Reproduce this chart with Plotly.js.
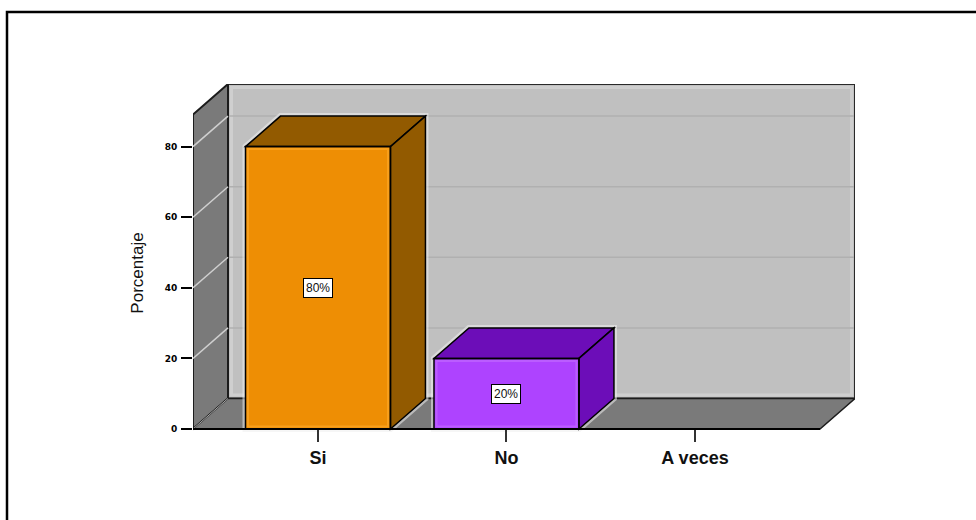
<!DOCTYPE html>
<html>
<head>
<meta charset="utf-8">
<script src="https://cdn.plot.ly/plotly-3.0.1.min.js"></script>
<style>html,body{margin:0;padding:0;background:#fff;overflow:hidden}#c{width:976px;height:520px}</style>
</head>
<body>
<div id="c"></div>
<script>
const categories = ["Si", "No", "A veces"];
const values = [80, 20, 0];
const labels = ["80%", "20%", null];
const yTicks = [0, 20, 40, 60, 80];
const frontColors = ["#ee8e04", "#ae43ff", "#ee8e04"];
const sideColors = ["#925a00", "#6c0db8", "#925a00"];
const glowColors = ["#f89f1c", "#bb5cff", "#f89f1c"];

// Plot area is extended below the zero line so the axis title centres where the reference has it
const margin = {l: 193, r: 121, t: 84, b: 58};
const plotW = 662, plotH = 378;
const xRange = [-0.663, 2.849];
const pxY = 3.53;
const yRange = [-33 / pxY, 345 / pxY];
const pxX = plotW / (xRange[1] - xRange[0]);
const depthX = 35 / pxX, depthY = 30.5 / pxY;
const barWidth = 0.769;
const wallTop = yRange[1] - depthY;
const floorRight = xRange[1] - depthX;

const poly = pts => "M" + pts.map(p => p[0] + "," + p[1]).join("L") + "Z";
const seg = (pts, color, width, layer) => ({
  type: "path", xref: "x", yref: "y", layer: layer || "below",
  path: "M" + pts.map(p => p[0] + "," + p[1]).join("L"),
  line: {color: color, width: width}
});
const face = (pts, fill, color, width, layer) => ({
  type: "path", xref: "x", yref: "y", layer: layer || "below",
  path: poly(pts), fillcolor: fill, line: {color: color, width: width}
});

const shapes = [];
const x0 = xRange[0];

// back wall, side wall, floor
shapes.push(face([[x0 + depthX, depthY], [xRange[1], depthY], [xRange[1], yRange[1]], [x0 + depthX, yRange[1]]], "#c0c0c0", "#2a2a2a", 2));
const ix = 3.5 / pxX, iy = 3.5 / pxY;
shapes.push(face([[x0 + depthX + ix, depthY + iy], [xRange[1] - ix, depthY + iy], [xRange[1] - ix, yRange[1] - iy], [x0 + depthX + ix, yRange[1] - iy]], "rgba(0,0,0,0)", "#cfcfcf", 3));
shapes.push(face([[x0, 0], [x0 + depthX, depthY], [x0 + depthX, yRange[1]], [x0, wallTop]], "#7a7a7a", "#1c1c1c", 2));
shapes.push(face([[x0, 0], [floorRight, 0], [xRange[1], depthY], [x0 + depthX, depthY]], "#7a7a7a", "#1c1c1c", 1.5));

// grid lines on the walls
yTicks.forEach(v => {
  if (v > 0) shapes.push(seg([[x0 + depthX + 1 / pxX, v + depthY], [xRange[1] - 1 / pxX, v + depthY]], "#b0b0b0", 1.5));
  shapes.push(seg([[x0, v], [x0 + depthX, v + depthY]], v === 0 ? "#a8a8a8" : "#cfcfcf", v === 0 ? 1 : 1.5));
});

// bar depth faces
values.forEach((v, i) => {
  if (!v) return;
  const l = i - barWidth / 2, r = i + barWidth / 2;
  const top = [[l, v], [r, v], [r + depthX, v + depthY], [l + depthX, v + depthY]];
  const side = [[r, 0], [r + depthX, depthY], [r + depthX, v + depthY], [r, v]];
  const halo = [[l, 0], [l, v], [l + depthX, v + depthY], [r + depthX, v + depthY], [r + depthX, depthY], [r, 0]];
  shapes.push(face(halo, "rgba(0,0,0,0)", "rgba(238,238,238,0.55)", 6));
  shapes.push(face(top, sideColors[i], "#000000", 1.5, "above"));
  shapes.push(face(side, sideColors[i], "#000000", 1.5, "above"));
  const gx = 2.5 / pxX, gy = 2.5 / pxY;
  shapes.push(face([[l + gx, gy], [r - gx, gy], [r - gx, v - gy], [l + gx, v - gy]], "rgba(0,0,0,0)", glowColors[i], 2, "above"));
  shapes.push(face([[l, 0], [r, 0], [r, v], [l, v]], "rgba(0,0,0,0)", "#000000", 1.5, "above"));
});

// baseline and outer frame
shapes.push(seg([[x0, 0], [floorRight, 0]], "#000000", 2, "above"));
const fx = (7 - margin.l) / plotW, fy = (margin.t + plotH - 12) / plotH;
shapes.push({type: "path", xref: "paper", yref: "paper", layer: "above",
  path: `M${fx},${-margin.b / plotH}L${fx},${fy}L${(976 - margin.l) / plotW},${fy}`,
  line: {color: "#000000", width: 2.5}});

const annotations = labels.map((t, i) => t === null ? null : ({
  x: categories[i], y: values[i] / 2, text: t, showarrow: false,
  font: {family: "Liberation Sans, Arial, sans-serif", size: 12, color: "#111"},
  bgcolor: "#ffffff", bordercolor: "#000000", borderwidth: 1, borderpad: 2
})).filter(Boolean);

const trace = {
  type: "bar", x: categories, y: values, width: barWidth,
  marker: {color: frontColors, line: {width: 0}}, hoverinfo: "skip"
};

const layout = {
  width: 976, height: 520, margin: margin, autosize: false,
  paper_bgcolor: "#ffffff", plot_bgcolor: "rgba(0,0,0,0)", showlegend: false,
  xaxis: {
    type: "category", categoryorder: "array", categoryarray: categories, range: xRange,
    anchor: "free", position: (33 / plotH),
    showgrid: false, zeroline: false, showline: false, fixedrange: true,
    ticks: "outside", ticklen: 12, tickwidth: 2, tickcolor: "#333",
    tickfont: {family: "Liberation Sans, Arial, sans-serif", size: 18, color: "#111", weight: 700}
  },
  yaxis: {
    range: yRange, tickvals: yTicks, ticktext: yTicks.map(String),
    showgrid: false, zeroline: false, showline: false, fixedrange: true,
    ticks: "outside", ticklen: 11, tickwidth: 2, tickcolor: "#000", ticklabelstandoff: 2,
    tickfont: {family: "DejaVu Sans, Verdana, sans-serif", size: 9, color: "#000", weight: 700},
    title: {text: "Porcentaje", standoff: 16, font: {family: "Liberation Sans, Arial, sans-serif", size: 17, color: "#111"}}
  },
  shapes: shapes, annotations: annotations
};
Plotly.newPlot("c", [trace], layout, {displayModeBar: false, staticPlot: true});
</script>
</body>
</html>
